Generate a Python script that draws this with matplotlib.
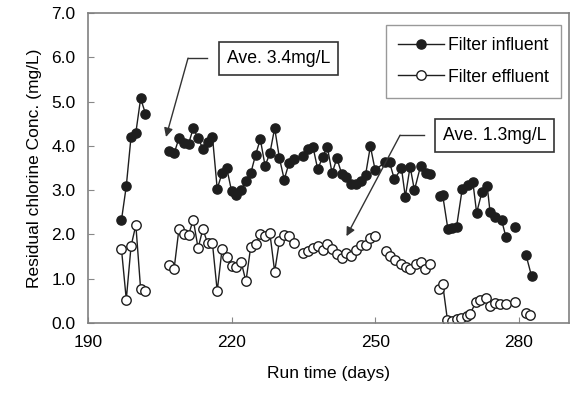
import numpy as np
import matplotlib
matplotlib.use("Agg")
import matplotlib.pyplot as plt

plt.rcParams['font.family'] = ['Liberation Sans', 'DejaVu Sans']

# run time (days) and residual chlorine (mg/L); nan = no line across the gap
inf_days = [197, 198, 199, 200, 201, 202, 204,
            207, 208, 209, 210, 211, 212, 213, 214, 215, 216, 217, 218, 219, 220,
            221, 222, 223, 224, 225, 226, 227, 228, 229, 230, 231, 232, 233, 235,
            236, 237, 238, 239, 240, 241, 242, 243, 244, 245, 246, 247, 248, 249,
            250, 252, 253, 254, 255.5, 256.3, 257.3, 258.2, 259.5, 260.7, 261.5, 262.5,
            263.5, 264.1, 265.2, 266, 267, 268.2, 269.3, 270.4, 271.2, 272.3, 273.4,
            274, 275, 276.4, 277.3, 278.2, 279.2, 280.3, 281.5, 282.7]
inf_vals = [2.33, 3.09, 4.21, 4.30, 5.07, 4.73, np.nan,
            3.89, 3.83, 4.17, 4.06, 4.04, 4.40, 4.17, 3.94, 4.09, 4.21, 3.03, 3.38, 3.49, 2.98,
            2.89, 3.00, 3.21, 3.38, 3.79, 4.15, 3.55, 3.83, 4.40, 3.72, 3.24, 3.61, 3.70, 3.76,
            3.92, 3.98, 3.47, 3.74, 3.98, 3.38, 3.72, 3.37, 3.29, 3.14, 3.13, 3.21, 3.35, 3.99,
            3.45, 3.63, 3.63, 3.25, 3.49, 2.85, 3.53, 3.00, 3.55, 3.38, 3.36, np.nan,
            2.86, 2.89, 2.12, 2.14, 2.17, 3.03, 3.12, 3.19, 2.49, 2.95, 3.10,
            2.51, 2.40, 2.33, 1.95, np.nan, 2.17, np.nan, 1.54, 1.05]

eff_days = [197, 198, 199, 200, 201, 202, 204,
            207, 208, 209, 210, 211, 212, 213, 214, 215, 216, 217, 218, 219, 220,
            221, 222, 223, 224, 225, 226, 227, 228, 229, 230, 231, 232, 233, 234,
            235, 236, 237, 238, 239, 240, 241, 242, 243, 244, 245, 246, 247, 248,
            249, 250, 251, 252.3, 253.2, 254.2, 255.4, 256.5, 257.3, 258.5, 259.5,
            260.4, 261.4, 262.4, 263.4, 264.1, 265.1, 266, 267, 268, 269.1, 269.8,
            271.1, 272, 273.1, 274, 275, 276.1, 277.3, 279.2, 280.3, 281.5, 282.3]
eff_vals = [1.66, 0.53, 1.74, 2.21, 0.76, 0.72, np.nan,
            1.32, 1.23, 2.12, 2.02, 1.99, 2.33, 1.69, 2.12, 1.80, 1.80, 0.72, 1.66, 1.49, 1.28,
            1.27, 1.38, 0.94, 1.72, 1.78, 2.00, 1.96, 2.03, 1.16, 1.85, 1.98, 1.97, 1.80, np.nan,
            1.59, 1.63, 1.70, 1.74, 1.64, 1.78, 1.67, 1.55, 1.46, 1.59, 1.52, 1.65, 1.76, 1.77,
            1.92, 1.96, np.nan, 1.62, 1.52, 1.42, 1.33, 1.27, 1.23, 1.33, 1.38,
            1.23, 1.33, np.nan, 0.76, 0.88, 0.07, 0.05, 0.08, 0.11, 0.16, 0.20,
            0.48, 0.52, 0.56, 0.38, 0.46, 0.44, 0.44, 0.48, np.nan, 0.23, 0.18]

x_ticks = [190, 220, 250, 280]
y_ticks = [0, 1, 2, 3, 4, 5, 6, 7]

fig = plt.figure(figsize=(5.74, 3.97), dpi=100)
ax = fig.add_axes([0.1533, 0.1864, 0.838, 0.7809])

ink = '#1e1e1e'
ax.plot(inf_days, inf_vals, '-', color=ink, lw=1.0, marker='o', ms=6.6,
        mfc=ink, mec=ink, label='Filter influent')
ax.plot(eff_days, eff_vals, '-', color=ink, lw=1.0, marker='o', ms=6.8,
        mfc='white', mec=ink, mew=1.0, label='Filter effluent')

ax.set_xlim(190, 290.5)
ax.set_ylim(0, 7)
ax.set_xticks(x_ticks)
ax.set_yticks(y_ticks)
ax.set_yticklabels(['%.1f' % v for v in y_ticks])
ax.tick_params(direction='in', length=4, color='#888888', labelsize=12.5, pad=9)
for s in ax.spines.values():
    s.set_color('#808080')
    s.set_linewidth(1.2)

ax.set_xlabel('Run time (days)', fontsize=12.5, labelpad=11)
ax.set_ylabel('Residual chlorine Conc. (mg/L)', fontsize=12.5, labelpad=7)

# annotation 1
ax.plot([214.8, 210.9], [5.98, 5.98], color='#333333', lw=1.0)
ax.annotate('', xy=(206.3, 4.20), xytext=(210.9, 5.98),
            arrowprops=dict(arrowstyle='-|>', color='#333333', lw=1.0,
                            mutation_scale=13, shrinkA=0, shrinkB=0))
ax.text(229.8, 5.98, 'Ave. 3.4mg/L', fontsize=12.7, ha='center', va='center',
        bbox=dict(boxstyle='square,pad=0.45', fc='white', ec='#333333', lw=1.2))

# annotation 2
ax.plot([260.2, 255.2], [4.24, 4.24], color='#333333', lw=1.0)
ax.annotate('', xy=(244.0, 1.96), xytext=(255.2, 4.24),
            arrowprops=dict(arrowstyle='-|>', color='#333333', lw=1.0,
                            mutation_scale=13, shrinkA=0, shrinkB=0))
ax.text(274.9, 4.24, 'Ave. 1.3mg/L', fontsize=12.7, ha='center', va='center',
        bbox=dict(boxstyle='square,pad=0.45', fc='white', ec='#333333', lw=1.2))

leg = ax.legend(loc='upper right', bbox_to_anchor=(0.983, 0.961), borderaxespad=0,
                fontsize=12.7, fancybox=False, handlelength=2.6, handletextpad=0.2,
                labelspacing=0.8, borderpad=0.7)
leg.get_frame().set_edgecolor('#808080')
leg.get_frame().set_linewidth(1.0)

fig.savefig('out.png', dpi=100)
